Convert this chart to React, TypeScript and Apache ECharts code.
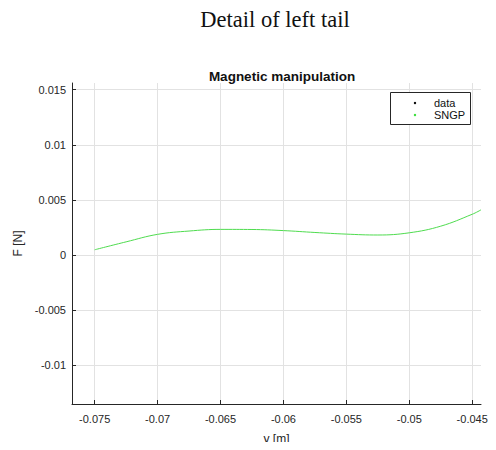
import React, { useEffect, useRef } from "react";
import * as echarts from "echarts";

const yPositions = [-0.075, -0.0725, -0.07, -0.0675, -0.065, -0.0625, -0.06, -0.0575, -0.055, -0.0525, -0.05, -0.0475, -0.045, -0.0443];
const sngpForce = [0.00048, 0.0012, 0.00188, 0.00218, 0.00233, 0.00232, 0.00222, 0.00205, 0.0019, 0.00182, 0.00202, 0.00262, 0.0037, 0.0041];
const dataPoints: number[][] = [];
const xTicks = [-0.075, -0.07, -0.065, -0.06, -0.055, -0.05, -0.045];
const yTicks = [-0.01, -0.005, 0, 0.005, 0.01, 0.015];
const xRange = [-0.0768, -0.0443];
const yRange = [-0.0135, 0.0156];

const fmt = (v: number) => {
  const r = Math.round(v * 10000) / 10000;
  return r === 0 ? "0" : String(r);
};

export default function App() {
  const ref = useRef<HTMLDivElement>(null);
  useEffect(() => {
    if (!ref.current) return;
    const chart = echarts.init(ref.current, null, { renderer: "svg" });
    const axisColor = "#262626";
    const gridColor = "#e2e2e2";
    chart.setOption({
      animation: false,
      backgroundColor: "#ffffff",
      textStyle: { fontFamily: "Liberation Sans" },
      title: [
        {
          text: "Detail of left tail",
          left: 270,
          top: 3,
          textAlign: "center",
          textStyle: { fontFamily: "Liberation Serif", fontSize: 22.5, fontWeight: "normal", color: "#111" },
        },
        {
          text: "Magnetic manipulation",
          left: 277,
          top: 64,
          textAlign: "center",
          textStyle: { fontFamily: "Liberation Sans", fontSize: 13.5, fontWeight: "bold", color: "#111" },
        },
      ],
      grid: { left: 72, top: 83, right: 15, bottom: 45, containLabel: false },
      xAxis: {
        type: "value",
        min: xRange[0],
        max: xRange[1],
        name: "y [m]",
        nameLocation: "middle",
        nameGap: 29,
        nameTextStyle: { fontSize: 12, color: axisColor },
        axisLine: { show: true, onZero: false, lineStyle: { color: axisColor, width: 1 } },
        axisTick: { show: true, inside: true, length: 4, customValues: xTicks, lineStyle: { color: axisColor } },
        axisLabel: {
          color: axisColor,
          fontSize: 11,
          margin: 9,
          customValues: xTicks,
          formatter: (v: number) => fmt(v),
        },
        splitLine: { show: false },
      },
      yAxis: {
        type: "value",
        min: yRange[0],
        max: yRange[1],
        name: "F [N]",
        nameLocation: "middle",
        nameGap: 46,
        nameRotate: 90,
        nameTextStyle: { fontSize: 12, color: axisColor },
        axisLine: { show: true, onZero: false, lineStyle: { color: axisColor, width: 1 } },
        axisTick: { show: true, inside: true, length: 4, customValues: yTicks, lineStyle: { color: axisColor } },
        axisLabel: {
          color: axisColor,
          fontSize: 11,
          margin: 6,
          customValues: yTicks,
          formatter: (v: number) => fmt(v),
        },
        splitLine: { show: false },
      },
      series: [
        {
          name: "data",
          type: "scatter",
          data: dataPoints,
          symbolSize: 3,
          itemStyle: { color: "#000" },
        },
        {
          name: "SNGP",
          type: "line",
          data: yPositions.map((x, i) => [x, sngpForce[i]]),
          smooth: 0.4,
          showSymbol: false,
          lineStyle: { color: "#4fdc4f", width: 1 },
          markLine: {
            silent: true,
            symbol: "none",
            label: { show: false },
            lineStyle: { color: gridColor, width: 1, type: "solid" },
            data: [
              ...xTicks.map((v) => [{ coord: [v, yRange[0]] }, { coord: [v, yRange[1]] }]),
              ...yTicks.map((v) => [{ coord: [xRange[0], v] }, { coord: [xRange[1], v] }]),
            ],
            z: 0,
          },
        },
      ],
      graphic: [
        {
          type: "rect",
          shape: { x: 390.5, y: 92.5, width: 80, height: 32 },
          style: { fill: "#fff", stroke: "#262626", lineWidth: 1 },
          z: 100,
        },
        { type: "circle", shape: { cx: 415, cy: 103, r: 1.2 }, style: { fill: "#000" }, z: 101 },
        { type: "circle", shape: { cx: 415, cy: 115, r: 1.2 }, style: { fill: "#33dd33" }, z: 101 },
        {
          type: "text",
          x: 434,
          y: 103,
          style: { text: "data", font: "11px 'Liberation Sans'", fill: "#111", textVerticalAlign: "middle" },
          z: 101,
        },
        {
          type: "text",
          x: 434,
          y: 115,
          style: { text: "SNGP", font: "11px 'Liberation Sans'", fill: "#111", textVerticalAlign: "middle" },
          z: 101,
        },
      ],
    });
    return () => chart.dispose();
  }, []);
  return <div ref={ref} style={{ width: 496, height: 450, margin: -8 }} />;
}
